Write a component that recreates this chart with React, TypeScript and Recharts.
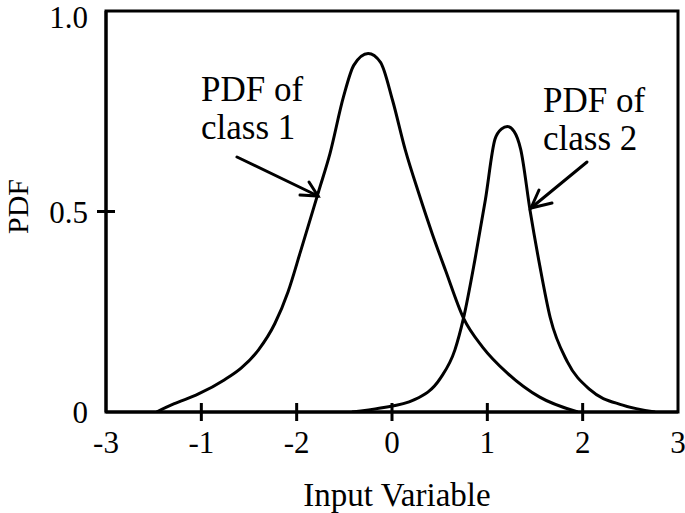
import { LineChart, Line, XAxis, YAxis, ReferenceArea } from 'recharts';

const class1X = [-2.47, -2.29, -2.03, -1.76, -1.58, -1.4, -1.23, -1.09, -0.96, -0.77, -0.65, -0.51, -0.4, -0.25, -0.12, 0.005, 0.14, 0.28, 0.42, 0.56, 0.75, 0.95, 1.21, 1.55, 1.95];
const class1Y = [0, 0.02, 0.045, 0.08, 0.11, 0.155, 0.22, 0.3, 0.4, 0.55, 0.645, 0.785, 0.865, 0.894, 0.872, 0.778, 0.653, 0.546, 0.446, 0.354, 0.234, 0.162, 0.097, 0.037, 0];

const class2X = [-0.42, -0.12, 0.23, 0.51, 0.66, 0.75, 0.87, 0.98, 1.08, 1.15, 1.21, 1.28, 1.35, 1.45, 1.55, 1.66, 1.84, 2.08, 2.42, 2.76];
const class2Y = [0, 0.01, 0.03, 0.085, 0.155, 0.234, 0.38, 0.53, 0.68, 0.706, 0.712, 0.7, 0.655, 0.5, 0.365, 0.235, 0.125, 0.055, 0.017, 0];

const xTicks = [-3, -2, -1, 0, 1, 2, 3];
const xTickLabels = ['-3', '-1', '-2', '0', '1', '2', '3'];
const yTicks = [0, 0.5, 1];
const yTickLabels = ['0', '0.5', '1.0'];

const FONT = '"Liberation Serif", "Times New Roman", serif';

const series1 = class1X.map((x, i) => ({ x, y: class1Y[i] }));
const series2 = class2X.map((x, i) => ({ x, y: class2Y[i] }));

function XTick(props: any) {
  const { x, y, payload } = props;
  const v = payload.value;
  const inner = v > xTicks[0] && v < xTicks[xTicks.length - 1];
  return (
    <g>
      {inner && <line x1={x} x2={x} y1={y - 9} y2={y + 9} stroke="#000" strokeWidth={3} />}
      <text x={x} y={y + 41} textAnchor="middle" fontSize={31} fontFamily={FONT} fill="#000">
        {xTickLabels[xTicks.indexOf(v)]}
      </text>
    </g>
  );
}

function YTick(props: any) {
  const { x, y, payload } = props;
  const v = payload.value;
  const inner = v > yTicks[0] && v < yTicks[yTicks.length - 1];
  // keep the top label inside the picture
  const base = Math.max(y + 11, 28);
  return (
    <g>
      {inner && <line x1={x - 9} x2={x + 9} y1={y} y2={y} stroke="#000" strokeWidth={3} />}
      <text x={x - 18} y={base} textAnchor="end" fontSize={31} fontFamily={FONT} fill="#000">
        {yTickLabels[yTicks.indexOf(v)]}
      </text>
    </g>
  );
}

export default function App() {
  return (
    <div style={{ position: 'relative', width: 685, height: 513, background: '#fff' }}>
      <style>{`body{margin:0}`}</style>
      <LineChart width={685} height={513} margin={{ top: 11, right: 7, bottom: 0, left: 0 }}>
        <XAxis
          type="number"
          dataKey="x"
          domain={[-3, 3]}
          ticks={xTicks}
          height={101}
          tickSize={0}
          tickMargin={0}
          tickLine={false}
          axisLine={{ stroke: '#000', strokeWidth: 3 }}
          tick={<XTick />}
          interval={0}
          allowDataOverflow
          label={{ value: 'Input Variable', position: 'insideBottom', offset: 7, dx: 5, fontSize: 33, fontFamily: FONT, fill: '#000' }}
        />
        <YAxis
          type="number"
          dataKey="y"
          domain={[0, 1]}
          ticks={yTicks}
          width={106}
          tickSize={0}
          tickMargin={0}
          tickLine={false}
          axisLine={{ stroke: '#000', strokeWidth: 3 }}
          tick={<YTick />}
          interval={0}
          allowDataOverflow
          label={{ value: 'PDF', angle: -90, position: 'insideLeft', offset: 17, dy: -5, style: { textAnchor: 'middle' }, fontSize: 30, fontFamily: FONT, fill: '#000' }}
        />
        <ReferenceArea x1={-3} x2={3} y1={0} y2={1} fill="none" fillOpacity={0} stroke="#000" strokeWidth={3} ifOverflow="visible" />
        <Line data={series1} dataKey="y" type="monotone" stroke="#000" strokeWidth={3} dot={false} isAnimationActive={false} />
        <Line data={series2} dataKey="y" type="monotone" stroke="#000" strokeWidth={3} dot={false} isAnimationActive={false} />
      </LineChart>
      <svg width={685} height={513} style={{ position: 'absolute', left: 0, top: 0, pointerEvents: 'none' }}>
        <g fontFamily={FONT} fontSize={35} fill="#000">
          <text x={201} y={101}>PDF of</text>
          <text x={201} y={139}>class 1</text>
          <text x={543} y={112}>PDF of</text>
          <text x={543} y={150}>class 2</text>
        </g>
        <g stroke="#000" strokeWidth={3} fill="none" strokeLinecap="round">
          <line x1={237} y1={157} x2={318} y2={196} />
          <polyline points="300,195 318,196 309,182" />
          <line x1={587} y1={162} x2={531} y2={208} />
          <polyline points="552,203 531,208 539,190" />
        </g>
      </svg>
    </div>
  );
}
